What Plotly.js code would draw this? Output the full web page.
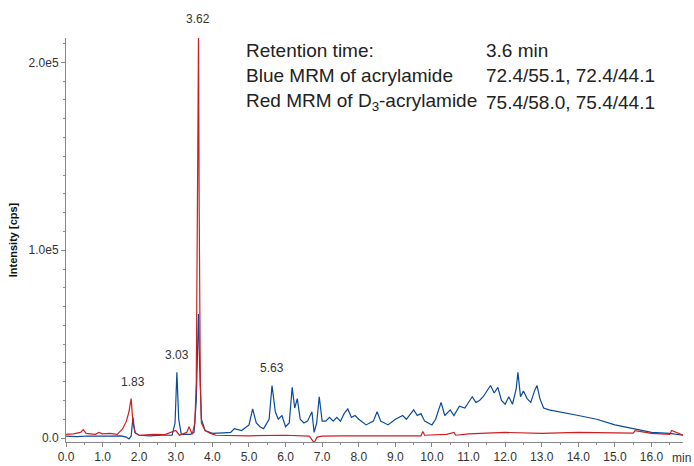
<!DOCTYPE html>
<html>
<head>
<meta charset="utf-8">
<script src="https://cdn.plot.ly/plotly-3.0.1.min.js"></script>
<style>html,body{margin:0;padding:0;background:#fff}#chart{width:694px;height:466px}</style>
</head>
<body>
<div id="chart"></div>
<script>
// acrylamide (blue) trace, time in min, intensity in thousands of cps
const blueTime = [0.0,0.3,0.6,0.9,1.2,1.5,1.65,1.72,1.78,1.83,1.88,2.0,2.3,2.6,2.9,2.98,3.03,3.08,3.15,3.4,3.5,3.56,3.6,3.62,3.65,3.7,3.8,4.0,4.3,4.5,4.6,4.8,5.0,5.1,5.2,5.3,5.4,5.55,5.63,5.72,5.8,5.9,6.0,6.1,6.18,6.25,6.32,6.4,6.5,6.6,6.72,6.78,6.85,6.92,7.0,7.1,7.2,7.3,7.4,7.5,7.6,7.7,7.8,7.9,8.0,8.2,8.4,8.5,8.6,8.8,9.0,9.2,9.3,9.5,9.6,9.7,9.8,10.0,10.1,10.25,10.35,10.5,10.6,10.75,10.9,11.0,11.1,11.2,11.3,11.4,11.5,11.6,11.7,11.8,11.9,12.0,12.1,12.2,12.3,12.35,12.42,12.5,12.6,12.7,12.8,12.87,12.95,13.05,13.2,13.5,14.0,14.5,15.0,15.5,16.0,16.5,16.86];
const blueVal = [1.0,0.8,1.1,0.9,1.0,1.2,0.5,-0.5,1.0,11,3,1.5,1.2,1.6,1.5,8,35,10,2,2,3,20,55,66,40,10,4,2.5,2.8,3,5,4,7,15.5,8,6,5,10,28,14,10,12,6,8,27,16,21,10,8,9,14,3,8,22,9,9,11,9,11,9,13,15.5,11,12,10,7,9,14,9,7,10,12,10,15,12,13,9,7,10,19,12,15,12,17,16,19,22,19,20,22,25,28,24,27,20,18,22,18,26,35,22,25,21,19,25,28,21,16,15,14,12,10,7,5,3,2.5,1.5];
// D3-acrylamide (red) trace
const redTime = [0.0,0.2,0.4,0.47,0.55,0.8,0.9,1.0,1.2,1.4,1.55,1.65,1.72,1.78,1.83,1.9,2.0,2.4,2.7,2.9,3.0,3.1,3.3,3.36,3.45,3.52,3.56,3.6,3.62,3.64,3.67,3.7,3.8,3.95,4.1,5.0,6.0,6.65,6.72,6.78,6.86,7.0,7.5,8.5,9.7,9.75,9.8,10.4,10.6,10.65,11.0,12.0,13.0,14.0,15.0,15.5,15.55,16.0,16.5,16.55,16.86];
const redVal = [2.0,2.2,3.0,4.5,2.5,2.0,3.0,2.2,2.5,2.0,5,9,14,21,8,2.5,1.5,2.0,1.8,3,4,1.5,3,6,2,8,30,150,215,120,30,8,4,2.5,1.5,1.2,1.5,1.0,-1,-2.5,0.5,1.0,1.2,1.2,1.2,3.5,1.5,2.0,3.0,1.5,2.2,3.0,2.5,3.0,3.0,2.6,4.0,2.5,2.0,4.0,1.5];
const xTicks = [0,1,2,3,4,5,6,7,8,9,10,11,12,13,14,15,16];
const yTicks = [0, 100000, 200000];
const yTickText = ['0.0', '1.0e5', '2.0e5'];
const peakLabels = ['1.83', '3.03', '3.62', '5.63'];
const peakY = [21, 35, 215, 28];

const k = v => v.map(a => a * 1000);
const data = [
  {x: blueTime, y: k(blueVal), type: 'scatter', mode: 'lines', line: {color: '#0a4a9a', width: 1.2}, hoverinfo: 'skip'},
  {x: redTime, y: k(redVal), type: 'scatter', mode: 'lines', line: {color: '#cc1f24', width: 1.2}, hoverinfo: 'skip'}
];

const txt = {family: 'Liberation Sans, Arial, sans-serif', size: 19, color: '#222'};
const small = {family: 'Liberation Sans, Arial, sans-serif', size: 12, color: '#333'};
const annotations = peakLabels.map((t, i) => ({
  x: parseFloat(t), y: peakY[i] * 1000, text: t, showarrow: false, yanchor: 'bottom', yshift: 8, font: small
}));
// tallest peak runs off the top of the frame, pin its label above the plot
annotations[2].yref = 'paper';
annotations[2].y = 1;
annotations[2].yshift = 10;
const rows = [
  ['Retention time:', '3.6 min'],
  ['Blue MRM of acrylamide', '72.4/55.1, 72.4/44.1'],
  ['Red MRM of D<sub>3</sub>-acrylamide', '75.4/58.0, 75.4/44.1']
];
rows.forEach((r, i) => {
  const y = 1 - (12 + i * 26) / 404;
  annotations.push({xref: 'paper', yref: 'paper', x: (244 - 66) / 617, y: y, xanchor: 'left', yanchor: 'middle', text: r[0], showarrow: false, font: txt});
  annotations.push({xref: 'paper', yref: 'paper', x: (484 - 66) / 617, y: y, xanchor: 'left', yanchor: 'middle', text: r[1], showarrow: false, font: txt});
});
annotations.push({xref: 'paper', yref: 'paper', x: 1, y: 0, yanchor: 'top', xanchor: 'right', xshift: 10, yshift: -7, text: 'min', showarrow: false, font: small});

const layout = {
  width: 694, height: 466,
  margin: {l: 66, r: 11, t: 38, b: 24},
  showlegend: false,
  paper_bgcolor: '#fff', plot_bgcolor: '#fff',
  font: small,
  xaxis: {
    range: [0, 16.86], tickvals: xTicks, ticktext: xTicks.map(v => v.toFixed(1)),
    showgrid: false, zeroline: false, showline: true, linecolor: '#888', linewidth: 1,
    ticks: 'outside', ticklen: 4, tickcolor: '#888',
    minor: {dtick: 0.5, ticks: 'outside', ticklen: 2, tickcolor: '#888'}
  },
  yaxis: {
    range: [-2100, 213000], tickvals: yTicks, ticktext: yTickText,
    showgrid: false, zeroline: false, showline: true, linecolor: '#888', linewidth: 1,
    ticks: 'outside', ticklen: 4, tickcolor: '#888',
    minor: {dtick: 10000, ticks: 'outside', ticklen: 2, tickcolor: '#888'},
    title: {text: '<b>Intensity [cps]</b>', font: {size: 11, color: '#111'}, standoff: 8}
  },
  annotations: annotations
};

Plotly.newPlot('chart', data, layout, {displayModeBar: false, staticPlot: true});
</script>
</body>
</html>
